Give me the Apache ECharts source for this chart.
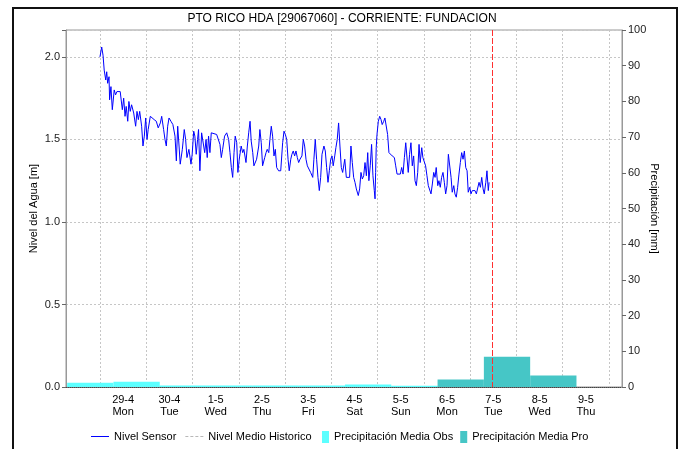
<!DOCTYPE html>
<html>
<head>
<meta charset="utf-8">
<script src="https://cdn.jsdelivr.net/npm/echarts@6.0.0/dist/echarts.min.js"></script>
<style>
  html, body { margin: 0; padding: 0; background: #fff; }
  #chart { width: 684px; height: 449px; }
</style>
</head>
<body>
<div id="chart"></div>
<script>
// Day labels along the time axis (one per calendar day)
const dayLabels = ['29-4', '30-4', '1-5', '2-5', '3-5', '4-5', '5-5', '6-5', '7-5', '8-5', '9-5'];
const weekDays = ['Mon', 'Tue', 'Wed', 'Thu', 'Fri', 'Sat', 'Sun', 'Mon', 'Tue', 'Wed', 'Thu'];

// Sensor water level: hours since 29-4 00:00 and level in metres
const sensorHours = [
  0.0, 0.9, 1.6, 2.2, 3.0, 3.5, 4.0, 4.7, 5.0, 5.7, 6.4, 7.4, 8.1, 8.8, 9.8, 10.5, 11.6, 12.3, 13.0, 13.6,
  14.4, 15.0, 15.7, 16.4, 17.5, 18.5, 19.2, 19.9, 20.6, 21.6, 22.3, 23.0, 23.7, 24.4, 25.0, 26.1, 27.1, 28.1, 29.2, 30.2,
  31.3, 32.0, 33.0, 33.7, 34.4, 35.1, 35.8, 36.8, 37.8, 38.9, 39.6, 40.3, 41.0, 41.6, 42.7, 43.7, 44.4, 45.1, 46.1, 47.2,
  47.8, 48.6, 49.2, 49.9, 50.6, 51.1,
  51.8, 52.7, 53.6, 54.3, 55.0, 55.6, 56.3, 57.0, 57.7, 58.7, 60.5, 61.5, 62.2, 62.9, 63.6, 64.6, 65.7, 66.7, 67.4, 68.1,
  68.8, 69.5, 70.1, 70.9, 71.5, 72.2, 73.2, 74.0, 74.6, 75.7, 76.4, 77.1, 77.8, 78.4, 79.2, 79.8, 80.5, 81.2, 82.3, 82.9,
  83.6, 84.3, 85.4, 86.1, 86.7, 87.5, 88.1, 88.8, 89.5, 90.2, 90.9, 91.6, 92.6, 93.7, 94.7, 95.4, 96.1, 96.8, 97.5, 98.1,
  98.9, 99.5, 100.2, 100.9, 101.6, 102.3, 103.0, 103.7, 104.7, 105.4, 106.1, 106.8, 107.5, 108.2, 109.2, 110.3, 110.9, 111.6, 112.3, 113.0,
  113.7, 114.4, 115.1, 116.1, 116.8, 117.5, 118.2, 118.9, 119.6, 120.3, 120.9, 121.7, 122.3, 123.0, 123.7, 124.4, 125.1, 125.8, 126.9,
  127.7, 128.7, 129.4, 130.1, 130.8, 131.5, 132.2, 132.9, 133.9, 134.6, 135.3, 136.0, 136.7, 137.4, 138.1, 138.8, 139.4, 140.1, 140.8, 141.5,
  142.2, 142.6, 142.9, 143.2, 143.6, 144.3, 145.0, 145.7, 146.3, 147.1, 147.7, 148.4, 149.1, 149.8, 150.5, 151.5, 152.6, 153.3, 154.0, 154.6,
  155.7, 156.4, 157.1, 157.8, 158.5, 159.1, 159.8, 160.5, 161.2, 161.9, 162.6, 163.3, 164.0, 164.7, 165.4, 166.0, 166.8, 167.4, 168.1, 168.8,
  169.5, 170.2, 170.9, 171.6, 172.3, 173.0, 173.7, 174.3, 175.1, 175.7, 176.4, 177.1, 177.8, 178.5, 179.2, 179.9, 180.6, 181.3, 182.0, 182.6,
  183.4, 184.0, 184.7, 185.4, 186.1, 186.8, 187.5, 188.2, 188.9, 189.6, 190.3, 190.9, 191.7, 192.3, 193.0, 193.7, 194.4, 195.1, 195.8, 196.5,
  197.2, 197.9, 198.6, 199.2, 200.0, 200.6, 201.3, 201.7
];
const sensorLevel = [
  2.00, 2.06, 2.01, 1.92, 1.86, 1.91, 1.84, 1.88, 1.74, 1.82, 1.68, 1.80, 1.77, 1.79, 1.78, 1.79, 1.68, 1.75, 1.64, 1.70,
  1.61, 1.73, 1.67, 1.71, 1.66, 1.58, 1.67, 1.62, 1.67, 1.58, 1.46, 1.52, 1.63, 1.50, 1.56, 1.64, 1.63, 1.62, 1.61, 1.57,
  1.60, 1.64, 1.56, 1.50, 1.46, 1.58, 1.63, 1.61, 1.59, 1.52, 1.37, 1.58, 1.46, 1.35, 1.44, 1.56, 1.50, 1.39, 1.44, 1.35,
  1.41, 1.55, 1.52, 1.41, 1.50, 1.56,
  1.31, 1.54, 1.54, 1.42, 1.50, 1.39, 1.52, 1.42, 1.54, 1.53, 1.53, 1.53, 1.47, 1.39, 1.44, 1.52, 1.54, 1.50, 1.42, 1.33,
  1.27, 1.42, 1.52, 1.48, 1.30, 1.38, 1.46, 1.42, 1.44, 1.36, 1.46, 1.54, 1.61, 1.49, 1.42, 1.34, 1.33, 1.38, 1.46, 1.56,
  1.48, 1.34, 1.39, 1.42, 1.44, 1.42, 1.50, 1.58, 1.52, 1.40, 1.44, 1.33, 1.31, 1.31, 1.48, 1.55, 1.53, 1.50, 1.38, 1.31,
  1.38, 1.41, 1.43, 1.40, 1.43, 1.39, 1.36, 1.38, 1.40, 1.50, 1.46, 1.38, 1.34, 1.33, 1.30, 1.27, 1.38, 1.50, 1.38, 1.27,
  1.19, 1.27, 1.41, 1.46, 1.43, 1.33, 1.24, 1.31, 1.38, 1.40, 1.34, 1.40, 1.45, 1.50, 1.60, 1.46, 1.33, 1.30, 1.38,
  1.27, 1.26, 1.27, 1.46, 1.36, 1.27, 1.24, 1.20, 1.16, 1.20, 1.30, 1.26, 1.28, 1.36, 1.28, 1.42, 1.25, 1.34, 1.47, 1.28,
  1.19, 1.14, 1.30, 1.45, 1.53, 1.61, 1.64, 1.62, 1.59, 1.61, 1.63, 1.64, 1.53, 1.42, 1.41, 1.40, 1.39, 1.34, 1.29, 1.29,
  1.29, 1.33, 1.29, 1.39, 1.48, 1.48, 1.30, 1.41, 1.48, 1.34, 1.40, 1.25, 1.22, 1.30, 1.47, 1.36, 1.45, 1.39, 1.40, 1.34,
  1.28, 1.22, 1.21, 1.17, 1.23, 1.30, 1.27, 1.33, 1.22, 1.25, 1.21, 1.27, 1.30, 1.24, 1.17, 1.22, 1.41, 1.42, 1.27, 1.18,
  1.22, 1.17, 1.15, 1.21, 1.29, 1.36, 1.42, 1.38, 1.43, 1.33, 1.31, 1.18, 1.21, 1.17, 1.19, 1.18, 1.19, 1.17, 1.16, 1.24,
  1.21, 1.27, 1.20, 1.17, 1.24, 1.31, 1.19, 1.24
];

// Daily precipitation (07:00 to 07:00), hours since 29-4 00:00, mm
const obsStart = [-17, 7, 31, 55, 79, 103, 127, 151];
const obsEnd   = [7, 31, 55, 79, 103, 127, 151, 175];
const obsRain  = [1.2, 1.45, 0.4, 0.4, 0.4, 0.4, 0.7, 0.35];
const proStart = [175, 199, 223];
const proEnd   = [199, 223, 247];
const proRain  = [2.1, 8.5, 3.2];

// Current time marker (hours since 29-4 00:00)
const nowHour = 203;

const chart = echarts.init(document.getElementById('chart'), null, { renderer: 'canvas' });

const sensorData = sensorHours.map((h, i) => [h, sensorLevel[i]]);
const obsData = obsStart.map((s, i) => [s, obsEnd[i], obsRain[i]]);
const proData = proStart.map((s, i) => [s, proEnd[i], proRain[i]]);

function rainBars(color) {
  return function (params, api) {
    const top = api.coord([api.value(0), api.value(2)]);
    const base = api.coord([api.value(1), 0]);
    return {
      type: 'rect',
      shape: { x: top[0], y: top[1], width: base[0] - top[0], height: base[1] - top[1] },
      style: { fill: color }
    };
  };
}

// Vertical "now" marker spanning the whole plot height
function nowMarker(params, api) {
  const a = api.coord([api.value(0), 0]);
  const cs = params.coordSys;
  const x = Math.round(a[0]) + 0.5;
  return {
    type: 'line',
    shape: { x1: x, y1: cs.y, x2: x, y2: cs.y + cs.height },
    style: { stroke: '#ff3030', lineWidth: 1, lineDash: [6, 2] }
  };
}

const FONT = "'Liberation Sans', Arial, sans-serif";
const gridLine = { color: '#c6c6c6', width: 1, type: [2, 2] };
const dashIcon = 'path://M0 0H3V1H0Z M5 0H8V1H5Z M10 0H13V1H10Z M15 0H18V1H15Z';

chart.setOption({
  animation: false,
  backgroundColor: '#fff',
  textStyle: { fontFamily: FONT },
  title: {
    text: 'PTO RICO HDA [29067060] - CORRIENTE: FUNDACION',
    left: 'center',
    top: 8,
    textStyle: { fontSize: 12, fontWeight: 'normal', color: '#000', fontFamily: FONT }
  },
  graphic: [{
    type: 'rect',
    shape: { x: 13, y: 8, width: 664, height: 470 },
    style: { fill: 'none', stroke: '#111', lineWidth: 2 },
    silent: true,
    z: 100
  }],
  legend: [{
    data: [
      { name: 'Nivel Sensor', icon: 'rect' },
      { name: 'Nivel Medio Historico', icon: dashIcon }
    ],
    left: 91,
    top: 431,
    padding: 0,
    itemWidth: 18,
    itemHeight: 1,
    itemGap: 9,
    textStyle: { fontSize: 11, color: '#000', fontFamily: FONT }
  }, {
    data: [
      { name: 'Precipitación Media Obs', icon: 'rect' },
      { name: 'Precipitación Media Pro', icon: 'rect' }
    ],
    left: 322,
    top: 431,
    padding: 0,
    itemWidth: 7,
    itemHeight: 12,
    itemGap: 7,
    textStyle: { fontSize: 11, color: '#000', fontFamily: FONT }
  }],
  grid: [
    { left: 66, right: 62, top: 30, bottom: 62, show: true, borderColor: '#999', borderWidth: 1, outerBoundsMode: 'none' },
    { left: 100, right: 75, top: 30, bottom: 62, outerBoundsMode: 'none' }
  ],
  xAxis: [{
    type: 'value',
    gridIndex: 0,
    min: -17.6,
    max: 270.6,
    axisLine: { show: true, onZero: false, lineStyle: { color: '#444', width: 1, type: [1, 1] } },
    axisTick: { show: false },
    axisLabel: { show: false },
    splitLine: { show: false }
  }, {
    type: 'category',
    gridIndex: 1,
    data: dayLabels,
    boundaryGap: true,
    axisLine: { show: false },
    axisTick: { show: false },
    axisLabel: {
      interval: 0,
      margin: 7,
      fontSize: 11,
      lineHeight: 12,
      color: '#000',
      formatter: (v, i) => v + '\n' + weekDays[i]
    },
    splitLine: { show: true, interval: 0, lineStyle: gridLine }
  }],
  yAxis: [{
    type: 'value',
    gridIndex: 0,
    position: 'left',
    min: 0,
    max: 2.163,
    interval: 0.5,
    name: 'Nivel del Agua [m]',
    nameLocation: 'middle',
    nameGap: 27,
    nameMoveOverlap: false,
    nameTextStyle: { fontSize: 11, color: '#000', fontFamily: FONT },
    axisLine: { show: true, onZero: false, lineStyle: { color: '#999' } },
    axisTick: { show: true, length: 4, lineStyle: { color: '#666' } },
    axisLabel: {
      margin: 6, fontSize: 11, color: '#222',
      formatter: v => (Math.abs(v / 0.5 - Math.round(v / 0.5)) < 1e-6 ? v.toFixed(1) : '')
    },
    splitLine: { show: true, lineStyle: gridLine }
  }, {
    type: 'value',
    gridIndex: 0,
    position: 'right',
    min: 0,
    max: 100,
    interval: 10,
    name: 'Precipitación [mm]',
    nameLocation: 'middle',
    nameRotate: -90,
    nameGap: 27,
    nameMoveOverlap: false,
    nameTextStyle: { fontSize: 11, color: '#000', fontFamily: FONT },
    axisLine: { show: true, onZero: false, lineStyle: { color: '#999' } },
    axisTick: { show: true, length: 4, lineStyle: { color: '#666' } },
    axisLabel: { margin: 6, fontSize: 11, color: '#222' },
    splitLine: { show: false }
  }, {
    type: 'value',
    gridIndex: 1,
    show: false,
    axisLine: { show: false, onZero: false },
    axisTick: { show: false },
    axisLabel: { show: false },
    splitLine: { show: false }
  }],
  series: [{
    name: 'Precipitación Media Obs',
    type: 'custom',
    xAxisIndex: 0,
    yAxisIndex: 1,
    color: '#5cffff',
    renderItem: rainBars('#5cffff'),
    encode: { x: [0, 1], y: 2 },
    data: obsData,
    clip: true,
    z: 2
  }, {
    name: 'Precipitación Media Pro',
    type: 'custom',
    xAxisIndex: 0,
    yAxisIndex: 1,
    color: '#46c6c6',
    renderItem: rainBars('#46c6c6'),
    encode: { x: [0, 1], y: 2 },
    data: proData,
    clip: true,
    z: 2
  }, {
    name: 'Nivel Medio Historico',
    type: 'line',
    xAxisIndex: 0,
    yAxisIndex: 0,
    color: '#b8b8b8',
    showSymbol: false,
    symbol: 'none',
    lineStyle: { color: '#b8b8b8', width: 1, type: [3, 3] },
    data: []
  }, {
    name: 'Nivel Sensor',
    type: 'line',
    xAxisIndex: 0,
    yAxisIndex: 0,
    color: '#0000ff',
    showSymbol: false,
    symbol: 'none',
    lineStyle: { color: '#0000ff', width: 1 },
    data: sensorData,
    z: 3
  }, {
    name: 'now',
    type: 'custom',
    xAxisIndex: 0,
    yAxisIndex: 0,
    renderItem: nowMarker,
    encode: { x: 0 },
    data: [[nowHour]],
    silent: true,
    z: 4
  }]
});
</script>
</body>
</html>
